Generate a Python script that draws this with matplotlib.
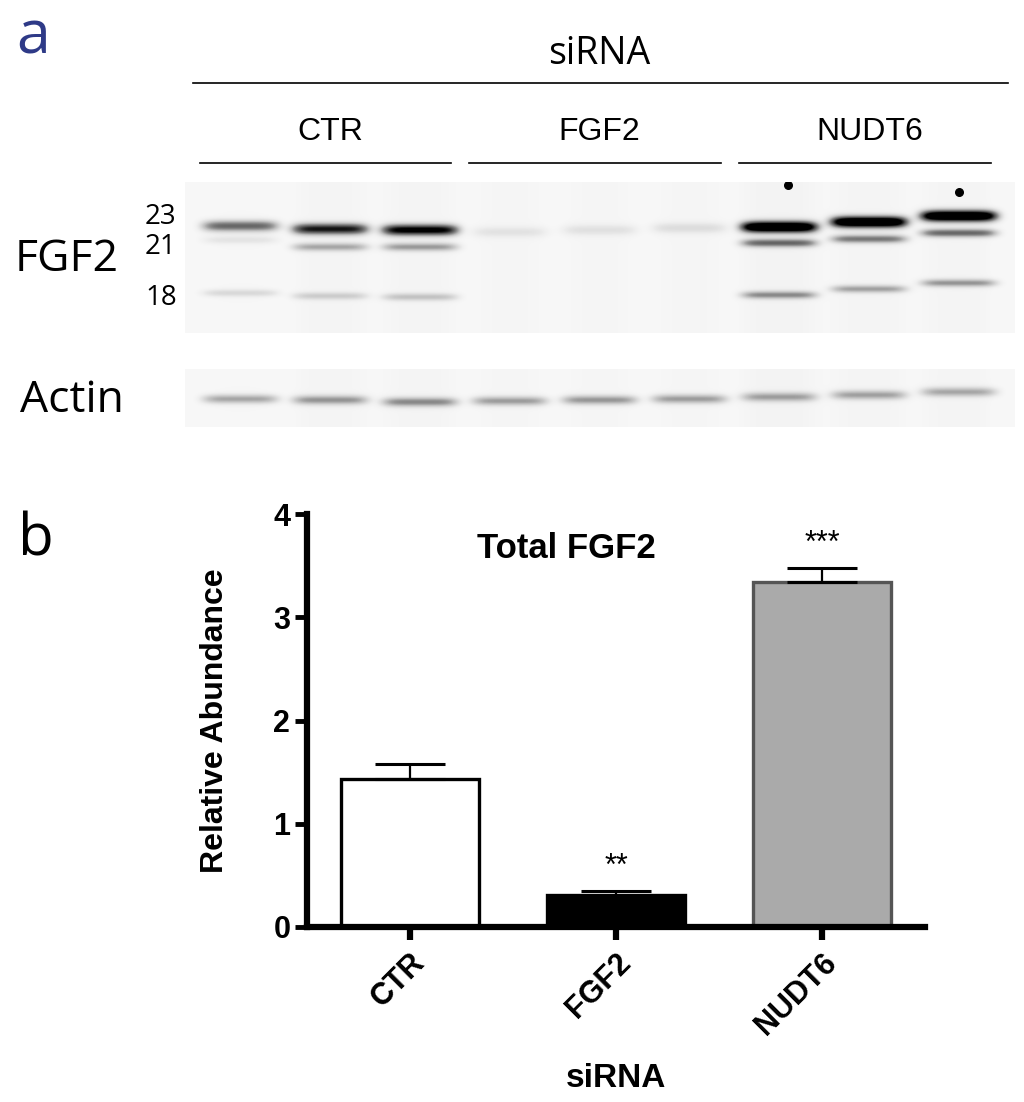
import numpy as np
import matplotlib.pyplot as plt

# panel b values
groups = ['CTR', 'FGF2', 'NUDT6']
means = [1.43, 0.31, 3.34]
sems = [0.15, 0.04, 0.14]
bar_colors = ['white', 'black', '#aaaaaa']
edge_colors = ['black', 'black', '#555555']
stars = ['', '**', '***']

# panel a: western blot, 9 lanes (3 per siRNA), darkness 0..1 and row (px from blot top)
band23 = [0.6, 0.85, 0.97, 0.12, 0.13, 0.15, 1.3, 1.3, 1.3]
row23 = [44, 47, 48, 50, 48, 46, 45, 40, 34]
band21 = [0.12, 0.36, 0.4, 0.0, 0.0, 0.0, 0.58, 0.52, 0.58]
row21 = [58, 65, 65, 65, 65, 65, 61, 57, 51]
band18 = [0.18, 0.22, 0.26, 0.0, 0.0, 0.0, 0.45, 0.38, 0.42]
row18 = [111, 114, 115, 115, 115, 115, 113, 107, 101]
actin = [0.38, 0.42, 0.46, 0.4, 0.42, 0.4, 0.38, 0.38, 0.36]
row_actin = [30, 31, 33, 32, 31, 30, 28, 26, 23]
lane_bg = [0.07, 0.09, 0.09, 0.08, 0.08, 0.08, 0.1, 0.09, 0.09]
mw_labels = ['23', '21', '18']
mw_rows = [35, 65, 116]
specks_lane = [6.1, 8.0]
specks_row = [3, 10]

plt.rcParams['font.family'] = ['Liberation Sans', 'DejaVu Sans']
humanist = ['Open Sans', 'DejaVu Sans']

fig = plt.figure(figsize=(10.24, 11.02), dpi=100)
W, H = 1024, 1102

xmin, xmax = -0.612, 8.62


def blot(bands, n_rows):
    xs = np.linspace(xmin, xmax, 830)
    ys = np.arange(n_rows) + 0.5
    X, Y = np.meshgrid(xs, ys)
    img = np.zeros_like(X)
    for i, b in enumerate(lane_bg):
        img += b * np.exp(-((X - i) / 0.5) ** 4)
    img = np.maximum(img, 0.06)
    for amps, rows, sig in bands:
        for i in range(len(amps)):
            h = np.exp(-((X - i) / 0.43) ** 6)
            v = np.exp(-0.5 * ((Y - rows[i]) / sig) ** 2)
            img += amps[i] * h * v
    return np.clip(img, 0, 1)


ax_f = fig.add_axes([185 / W, 1 - 333 / H, 830 / W, 151 / H])
ax_f.imshow(blot([(band23, row23, 4.0), (band21, row21, 3.0), (band18, row18, 2.8)], 151),
            cmap='Greys', vmin=0, vmax=1, aspect='auto', interpolation='bilinear',
            extent=[xmin, xmax, 151, 0])
ax_f.scatter(specks_lane, specks_row, s=30, color='black', zorder=3)
ax_f.set_xlim(xmin, xmax)
ax_f.set_ylim(151, 0)
ax_f.axis('off')

ax_a = fig.add_axes([185 / W, 1 - 427 / H, 830 / W, 58 / H])
ax_a.imshow(blot([(actin, row_actin, 3.4)], 58),
            cmap='Greys', vmin=0, vmax=1, aspect='auto', interpolation='bilinear',
            extent=[xmin, xmax, 58, 0])
ax_a.set_xlim(xmin, xmax)
ax_a.set_ylim(58, 0)
ax_a.axis('off')

# group headers above the blot
for k, g in enumerate(groups):
    first, last = 3 * k, 3 * k + 2
    ax_f.plot([first - 0.45, last + 0.35], [-19, -19], color='black', lw=1.2, clip_on=False)
    ax_f.text((first + last) / 2, -50, g, ha='center', va='center', fontsize=23)
ax_f.plot([-0.52, 8.54], [-99, -99], color='black', lw=1.2, clip_on=False)
ax_f.text(4, -128, 'siRNA', ha='center', va='center', fontsize=27, family=humanist)

for lab, r in zip(mw_labels, mw_rows):
    ax_f.text(-0.01, r, lab, transform=ax_f.get_yaxis_transform(), ha='right', va='center',
              fontsize=20, family=humanist)

fig.text(15 / W, 1 - 260 / H, 'FGF2', ha='left', va='center', fontsize=32, family=humanist)
fig.text(20 / W, 1 - 401 / H, 'Actin', ha='left', va='center', fontsize=32, family=humanist)
fig.text(16 / W, 1 - 53 / H, 'a', ha='left', va='baseline', fontsize=44, color='#2e3a87',
         family=humanist)
fig.text(18 / W, 1 - 555 / H, 'b', ha='left', va='baseline', fontsize=42, family=humanist)

# panel b bar chart
ax = fig.add_axes([307 / W, 1 - 927 / H, 618 / W, 413 / H])
x = np.arange(len(groups))
ax.bar(x, means, width=0.668, color=bar_colors, edgecolor=edge_colors, linewidth=2.4, zorder=2)
ax.errorbar(x, means, yerr=[np.zeros(len(sems)), sems], fmt='none', ecolor='black',
            elinewidth=1.6, capsize=25, capthick=2.2, zorder=3)
for i in range(len(groups)):
    if stars[i]:
        ax.text(x[i], means[i] + sems[i] + 0.15, stars[i], ha='center', va='baseline',
                fontsize=22)

ax.set_xlim(-0.5, 2.5)
ax.set_ylim(0, 4)
ax.set_yticks([0, 1, 2, 3, 4])
ax.set_xticks(x)
ax.set_xticklabels(groups, rotation=45, ha='right', rotation_mode='anchor',
                   fontsize=22, fontweight='bold')
for t in ax.get_yticklabels():
    t.set_fontsize(22)
    t.set_fontweight('bold')
ax.tick_params(axis='y', length=9, width=3.5, pad=3)
ax.tick_params(axis='x', length=9, width=4.5, pad=6)
for s in ['top', 'right']:
    ax.spines[s].set_visible(False)
for s in ['left', 'bottom']:
    ax.spines[s].set_linewidth(4.5)
ax.set_ylabel('Relative Abundance', fontsize=23, fontweight='bold')
ax.yaxis.set_label_coords(-0.125, 0.5)
ax.set_xlabel('siRNA', fontsize=24, fontweight='bold', va='top')
ax.xaxis.set_label_coords(0.5, -0.329)
ax.text(0.42, 0.893, 'Total FGF2', transform=ax.transAxes, ha='center', va='baseline',
        fontsize=25, fontweight='bold')

fig.savefig('out.png', dpi=100)
